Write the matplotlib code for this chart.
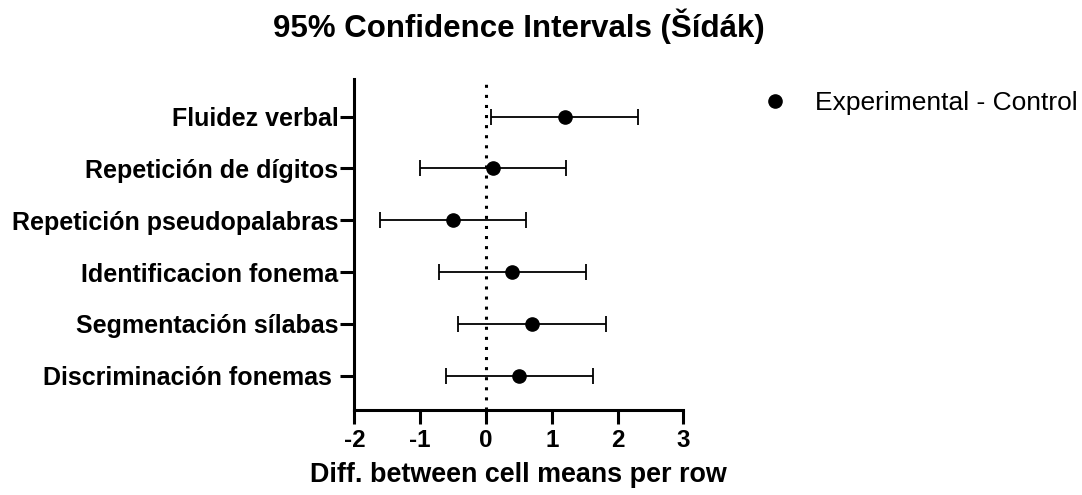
import numpy as np
import matplotlib
matplotlib.use("Agg")
import matplotlib.pyplot as plt
from matplotlib.lines import Line2D

# data (top row first)
rows = ["Fluidez verbal", "Repetición de dígitos", "Repetición pseudopalabras",
        "Identificacion fonema", "Segmentación sílabas", "Discriminación fonemas "]
diff = [1.2, 0.1, -0.5, 0.4, 0.7, 0.5]
lower = [0.08, -1.01, -1.61, -0.71, -0.42, -0.61]
upper = [2.31, 1.21, 0.61, 1.52, 1.82, 1.62]
xticks = [-2, -1, 0, 1, 2, 3]

plt.rcParams['font.family'] = ['Liberation Sans', 'DejaVu Sans']

fig = plt.figure(figsize=(10.82, 4.95), dpi=100)
ax = fig.add_axes([0.3276, 0.1717, 0.3039, 0.6681])

ypos = np.arange(len(rows))[::-1]
diff = np.array(diff)
err = np.vstack([diff - np.array(lower), np.array(upper) - diff])

ax.axvline(0, color='black', lw=2.2, linestyle=(0, (1, 2.3)), zorder=1)
ax.errorbar(diff, ypos, xerr=err, fmt='o', color='black', ms=9.5,
            elinewidth=1.3, capsize=5.5, capthick=1.3, zorder=3)

ax.set_xlim(-2, 3)
ax.set_ylim(-0.66, 5.72)
ax.set_xticks(xticks)
ax.set_xticklabels([str(t) for t in xticks])
ax.set_yticks(ypos)
ax.set_yticklabels(rows)

for s in ['top', 'right']:
    ax.spines[s].set_visible(False)
for s in ['left', 'bottom']:
    ax.spines[s].set_linewidth(2.2)
ax.tick_params(axis='both', width=2.2, length=10)
ax.tick_params(axis='y', pad=1.5, labelsize=18)
ax.tick_params(axis='x', pad=4, labelsize=17.5)
for lab in ax.get_xticklabels() + ax.get_yticklabels():
    lab.set_fontweight('bold')

ax.set_xlabel("Diff. between cell means per row", fontsize=19.4,
              fontweight='bold', labelpad=7)

fig.text(0.4798, 1 - 37 / 495, "95% Confidence Intervals (Šídák)",
         ha='center', va='baseline', fontsize=22.5, fontweight='bold')

handle = Line2D([], [], marker='o', ls='none', color='black', ms=9.5)
fig.legend(handles=[handle], labels=["Experimental - Control"],
           loc='center left', bbox_to_anchor=(762 / 1082, 1 - 103 / 495),
           frameon=False, fontsize=19, handlelength=1, handletextpad=1.0,
           borderpad=0, borderaxespad=0)

fig.savefig("out.png", dpi=100)
